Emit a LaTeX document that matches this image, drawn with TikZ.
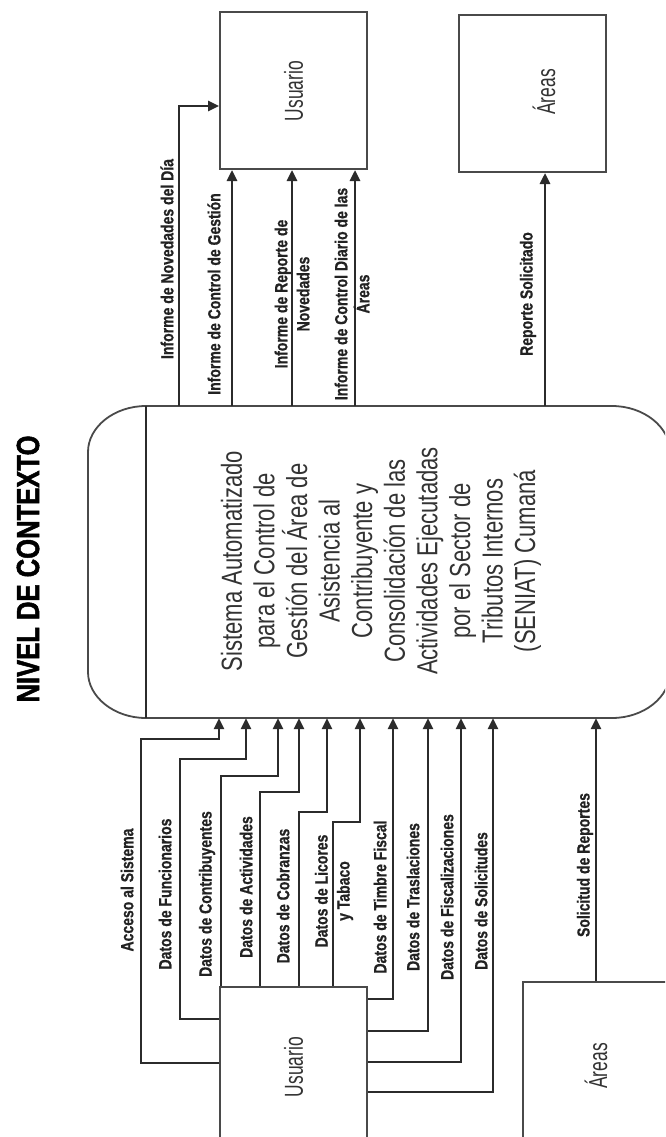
\documentclass[tikz,border=0pt]{standalone}
\usepackage{fontspec}
\setmainfont{Liberation Sans}
\newfontfamily\procfont[FakeStretch=0.76]{Liberation Sans}
\newfontfamily\boxfont[FakeStretch=0.67]{Liberation Sans}
\newfontfamily\lblfont[FakeStretch=0.8,FakeBold=0.8]{Liberation Sans}
\newfontfamily\titlefont[FakeStretch=0.8,FakeBold=1.5]{Liberation Sans}
\usetikzlibrary{arrows.meta}
\definecolor{linec}{HTML}{2B2B2B}
\definecolor{boxc}{HTML}{4A4A4A}
\definecolor{txtc}{HTML}{333333}
\definecolor{lblc}{HTML}{222222}
\begin{document}
\begin{tikzpicture}[x=1pt,y=-1pt,
  box/.style={draw=boxc, line width=2pt, fill=white, minimum width=147pt, minimum height=157pt, inner sep=0pt},
  boxlbl/.style={rotate=90, inner sep=0pt, text=txtc, font=\boxfont\fontsize{26}{30}\selectfont},
  flow/.style={draw=linec, line width=2.6pt, -{Triangle[length=11pt,width=10pt]}},
  lbl/.style={rotate=90, align=center, inner sep=0pt, text=lblc, font=\lblfont\bfseries\fontsize{17.5}{22}\selectfont}]
\path[use as bounding box, fill=white] (0,0) rectangle (665,1137);
\clip (0,0) rectangle (665,1137);

% title
\node[rotate=90, inner sep=0pt, font=\titlefont\bfseries\fontsize{32}{36}\selectfont] (title) at (28,569) {NIVEL DE CONTEXTO};

% central process
\node[minimum width=582pt, minimum height=312pt, inner sep=0pt] (proc) at (379,562) {};
\draw[draw=boxc, line width=1.8pt] (146,406) -- (612,406) .. controls (644,406) and (670,427) .. (670,452) -- (670,672) .. controls (670,697) and (644,718) .. (612,718) -- (146,718) .. controls (114,718) and (88,697) .. (88,672) -- (88,452) .. controls (88,427) and (114,406) .. (146,406) -- cycle;
\draw[draw=linec, line width=1.5pt] (146,0 |- proc.north) -- (146,0 |- proc.south);
\node[rotate=90, align=center, inner sep=0pt, text=txtc, font=\procfont\fontsize{29}{32.6}\selectfont] (ptxt) at (381,561)
 {Sistema Automatizado\\para el Control de\\Gestión del Área de\\Asistencia al\\Contribuyente y\\Consolidación de las\\Actividades Ejecutadas\\por el Sector de\\Tributos Internos\\(SENIAT) Cumaná};

% external entities
\node[box] (u1) at (293.5,90.5) {};
\node[boxlbl] (u1t) at (293.5,91) {Usuario};
\node[box] (a1) at (532.5,93.5) {};
\node[boxlbl] (a1t) at (544,92) {Áreas};
\node[box, minimum height=158pt] (u2) at (293.5,1066) {};
\node[boxlbl] (u2t) at (293.5,1067) {Usuario};
\node[box, minimum height=158pt] (a2) at (596.5,1061) {};
\node[boxlbl] (a2t) at (596,1066) {Áreas};

% outputs to top entities
\draw[flow] (179,0 |- proc.north) |- (u1.west |- 0,106);
\draw[flow] (232,0 |- proc.north) -- (232,0 |- u1.south);
\draw[flow] (292,0 |- proc.north) -- (292,0 |- u1.south);
\draw[flow] (355,0 |- proc.north) -- (355,0 |- u1.south);
\draw[flow] (545,0 |- proc.north) -- (545,0 |- a1.south);

\node[lbl] (l1) at (167,259) {Informe de Novedades del Día};
\node[lbl] (l2) at (214,294) {Informe de Control de Gestión};
\node[lbl] (l3) at (292,294) {Informe de Reporte de\\Novedades};
\node[lbl] (l4) at (352,294) {Informe de Control Diario de las\\Áreas};
\node[lbl] (l5) at (528,294) {Reporte Solicitado};

% inputs from bottom Usuario
\draw[flow] (u2.west |- 0,1063) -- (141,1063) -- (141,739) -- (219,739) -- (219,0 |- proc.south);
\draw[flow] (u2.west |- 0,1019) -- (180,1019) -- (180,759) -- (246,759) -- (246,0 |- proc.south);
\draw[flow] (221,0 |- u2.north) -- (221,776) -- (278,776) -- (278,0 |- proc.south);
\draw[flow] (260,0 |- u2.north) -- (260,792) -- (299,792) -- (299,0 |- proc.south);
\draw[flow] (299,0 |- u2.north) -- (299,812) -- (327,812) -- (327,0 |- proc.south);
\draw[flow] (333,0 |- u2.north) -- (333,822) -- (360,822) -- (360,0 |- proc.south);
\draw[flow] (u2.east |- 0,999) -| (393,0 |- proc.south);
\draw[flow] (u2.east |- 0,1031) -| (428,0 |- proc.south);
\draw[flow] (u2.east |- 0,1062) -| (461,0 |- proc.south);
\draw[flow] (u2.east |- 0,1092) -| (493,0 |- proc.south);
\draw[flow] (596,0 |- a2.north) -- (596,0 |- proc.south);

\node[lbl] (b1) at (127,890) {Acceso al Sistema};
\node[lbl] (b2) at (165,894) {Datos de Funcionarios};
\node[lbl] (b3) at (207,894) {Datos de Contribuyentes};
\node[lbl] (b4) at (246,887) {Datos de Actividades};
\node[lbl] (b5) at (283,896) {Datos de Cobranzas};
\node[lbl] (b6) at (334,891) {Datos de Licores\\y Tabaco};
\node[lbl] (b7) at (380,897) {Datos de Timbre Fiscal};
\node[lbl] (b8) at (413,897) {Datos de Traslaciones};
\node[lbl] (b9) at (447,897) {Datos de Fiscalizaciones};
\node[lbl] (b10) at (481,901) {Datos de Solicitudes};
\node[lbl] (b11) at (585,865) {Solicitud de Reportes};
\end{tikzpicture}
\end{document}
